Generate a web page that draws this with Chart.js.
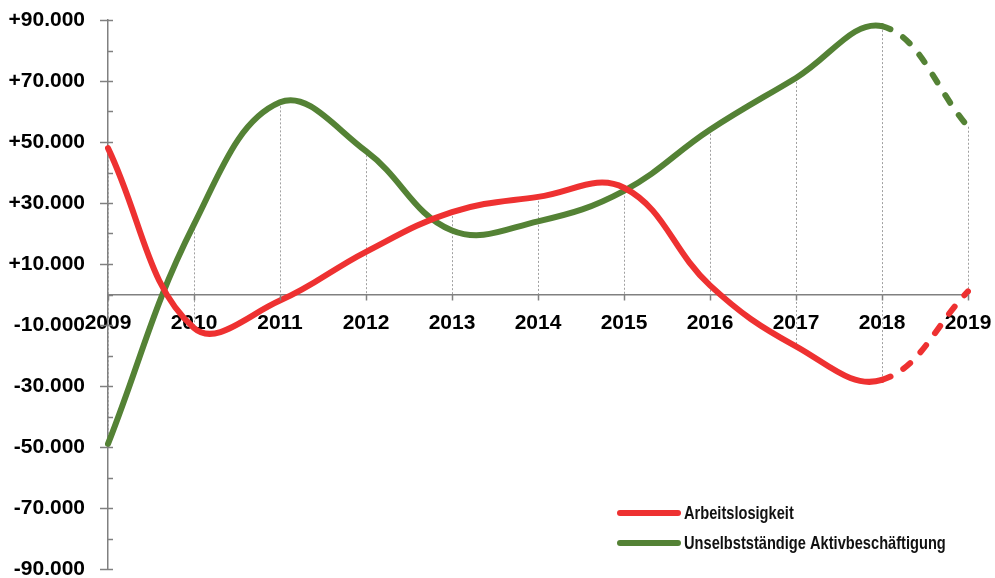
<!DOCTYPE html>
<html lang="de">
<head>
    <meta charset="UTF-8">
    <style>
        body { margin: 0; background: #fff; }
    </style>
</head>

<body>
<script src="https://cdn.jsdelivr.net/npm/chart.js@4/dist/chart.umd.min.js"></script>
<canvas id="line-chart" width="995" height="578"></canvas>
<script>

    // Veränderung zum Vorjahr
    var years = ['2009', '2010', '2011', '2012', '2013', '2014', '2015', '2016', '2017', '2018', '2019']
    var arbeitslosigkeit = [48000, -11000, -2000, 14000, 27000, 32000, 35000, 3000, -17000, -28000, 1000]
    var aktivbeschaeftigung = [-49000, 23000, 63000, 47000, 21000, 24000, 34000, 54000, 71000, 88000, 55000]
    var labelledTicks = [90000, 70000, 50000, 30000, 10000, -10000, -30000, -50000, -70000, -90000]

    var red = '#EE3131'
    var green = '#548235'
    var axisGrey = '#808080'

    function fmt(v) {
        var s = Math.abs(v).toString().replace(/\B(?=(\d{3})+(?!\d))/g, '.')
        return (v > 0 ? '+' : '-') + s
    }

    // dashed forecast segment 2018 -> 2019
    var lastDash = function (ctx) {
        return ctx.p0DataIndex === years.length - 2 ? [9, 15] : undefined
    }

    function line(c, x1, y1, x2, y2) {
        c.beginPath()
        c.moveTo(x1, y1)
        c.lineTo(x2, y2)
        c.stroke()
    }

    var extras = {
        id: 'extras',
        // vertical dotted lines spanning both series and the zero line
        beforeDatasetsDraw: function (chart) {
            var c = chart.ctx, x = chart.scales.x, y = chart.scales.y
            c.save()
            c.strokeStyle = '#A0A0A0'
            c.lineWidth = 1
            c.setLineDash([2, 2])
            years.forEach(function (yr, i) {
                var vals = [0, arbeitslosigkeit[i], aktivbeschaeftigung[i]]
                var px = Math.round(x.getPixelForValue(i)) + 0.5
                line(c, px, y.getPixelForValue(Math.max.apply(null, vals)), px, y.getPixelForValue(Math.min.apply(null, vals)))
            })
            c.restore()
        },
        afterDraw: function (chart) {
            var c = chart.ctx, x = chart.scales.x, y = chart.scales.y
            c.save()
            c.strokeStyle = axisGrey
            c.lineWidth = 1.5
            // y ticks: labelled ones cross the axis, the others only point inwards
            y.ticks.forEach(function (t) {
                var py = Math.round(y.getPixelForValue(t.value)) + 0.5
                var from = labelledTicks.indexOf(t.value) >= 0 ? y.right - 8 : y.right
                line(c, from, py, y.right + 5, py)
            })
            // x ticks below the zero line
            var zero = y.getPixelForValue(0)
            years.forEach(function (yr, i) {
                var px = Math.round(x.getPixelForValue(i)) + 0.5
                line(c, px, zero, px, zero + 6)
            })
            // legend bottom right (condensed text)
            var items = [['Arbeitslosigkeit', red, 513], ['Unselbstständige Aktivbeschäftigung', green, 543]]
            c.lineCap = 'round'
            c.lineWidth = 6
            items.forEach(function (it) {
                c.strokeStyle = it[1]
                line(c, 620, it[2], 678, it[2])
                c.save()
                c.translate(684, it[2] + 1)
                c.scale(0.77, 1)
                c.font = 'bold 19px "Liberation Sans"'
                c.textBaseline = 'middle'
                c.fillStyle = '#111'
                c.fillText(it[0], 0, 0)
                c.restore()
            })
            c.restore()
        }
    }

    new Chart(document.getElementById('line-chart'), {
        type: 'line',
        data: {
            labels: years,
            datasets: [
                {
                    label: 'Arbeitslosigkeit',
                    data: arbeitslosigkeit,
                    borderColor: red,
                    backgroundColor: red,
                    borderWidth: 6,
                    borderCapStyle: 'round',
                    pointRadius: 0,
                    tension: 0.4,
                    segment: { borderDash: lastDash }
                },
                {
                    label: 'Unselbstständige Aktivbeschäftigung',
                    data: aktivbeschaeftigung,
                    borderColor: green,
                    backgroundColor: green,
                    borderWidth: 6,
                    borderCapStyle: 'round',
                    pointRadius: 0,
                    tension: 0.4,
                    segment: { borderDash: lastDash }
                }
            ]
        },
        plugins: [extras],
        options: {
            responsive: false,
            animation: false,
            layout: { padding: { top: 20, right: 27, bottom: 9, left: 0 } },
            plugins: {
                legend: { display: false },
                tooltip: { enabled: false }
            },
            scales: {
                x: {
                    position: { y: 0 },
                    offset: false,
                    grid: { drawOnChartArea: false, tickLength: 16, tickColor: 'rgba(0,0,0,0)' },
                    border: { color: axisGrey, width: 1.5 },
                    ticks: {
                        autoSkip: false, maxRotation: 0, padding: 0, color: '#000',
                        font: { family: 'Liberation Sans', size: 21, weight: 'bold' }
                    }
                },
                y: {
                    min: -90000,
                    max: 90000,
                    afterFit: function (s) { s.width = 108 },
                    grid: { drawOnChartArea: false, tickLength: 23, tickColor: 'rgba(0,0,0,0)' },
                    border: { color: axisGrey, width: 1.5 },
                    ticks: {
                        stepSize: 10000, padding: 0, color: '#000',
                        font: { family: 'Liberation Sans', size: 21, weight: 'bold', lineHeight: 0.8 },
                        callback: function (v) { return labelledTicks.indexOf(v) >= 0 ? fmt(v) : '' }
                    }
                }
            }
        }
    });
</script>

</body>

</html>
